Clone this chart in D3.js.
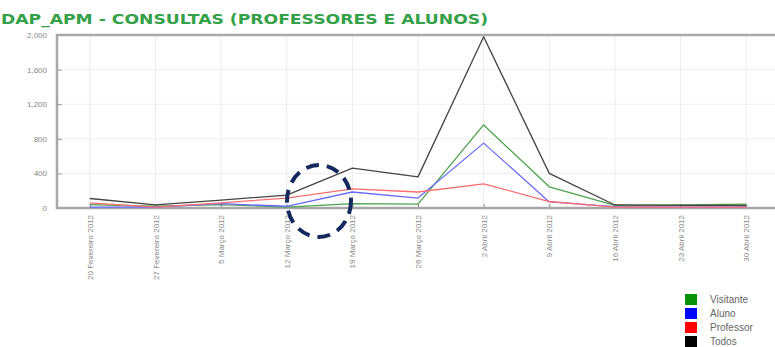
<!DOCTYPE html>
<html>
<head>
<meta charset="utf-8">
<script src="https://cdn.jsdelivr.net/npm/d3@7"></script>
<style>
  html, body { margin: 0; padding: 0; background: #fff; }
  svg { display: block; }
</style>
</head>
<body>
<svg id="chart" width="775" height="347"></svg>
<script>
// Weekly consultations, Feb–Apr 2012
const categories = [
  "20 Fevereiro 2012", "27 Fevereiro 2012", "5 Março 2012", "12 Março 2012",
  "19 Março 2012", "26 Março 2012", "2 Abril 2012", "9 Abril 2012",
  "16 Abril 2012", "23 Abril 2012", "30 Abril 2012"
];
const visitante = [40, 20, 40, 10, 50, 45, 960, 245, 30, 35, 45];
const aluno     = [10, 10, 50, 20, 185, 115, 750, 70, 15, 10, 12];
const professor = [60, 10, 60, 115, 220, 185, 280, 75, 10, 10, 10];
const todos     = [110, 35, 90, 150, 460, 360, 1980, 400, 35, 30, 30];
const yTicks = [0, 400, 800, 1200, 1600, 2000];

const seriesNames  = ["Visitante", "Aluno", "Professor", "Todos"];
const lineColors   = ["#4da24d", "#6b6bff", "#ff6e6e", "#444444"];
const legendColors = ["#079107", "#0000ff", "#ff0000", "#000000"];
const seriesValues = [visitante, aluno, professor, todos];

const svg = d3.select("#chart");
const plot = { left: 57, right: 779, top: 35, bottom: 208 };

const x = d3.scalePoint().domain(categories).range([plot.left, plot.right]).padding(0.5);
const y = d3.scaleLinear().domain([0, 2000]).range([plot.bottom, plot.top]);

// Title
svg.append("text")
  .attr("x", 1).attr("y", 24)
  .attr("font-family", "DejaVu Sans, sans-serif")
  .attr("font-weight", "bold")
  .attr("font-size", 14)
  .attr("fill", "#34a048")
  .attr("textLength", 487)
  .attr("lengthAdjust", "spacingAndGlyphs")
  .text("DAP_APM - CONSULTAS (PROFESSORES E ALUNOS)");

// Grid
const grid = svg.append("g");
grid.selectAll("line.v").data(categories).join("line")
  .attr("class", "v")
  .attr("x1", d => x(d)).attr("x2", d => x(d))
  .attr("y1", plot.top).attr("y2", plot.bottom)
  .attr("stroke", "#ececec").attr("stroke-width", 1);
grid.selectAll("line.h").data(yTicks.slice(1, -1)).join("line")
  .attr("class", "h")
  .attr("x1", plot.left).attr("x2", plot.right)
  .attr("y1", d => y(d)).attr("y2", d => y(d))
  .attr("stroke", "#f0f0f0").attr("stroke-width", 1);

// Y axis
const yAxis = d3.axisLeft(y).tickValues(yTicks).tickFormat(d3.format(",")).tickSize(-5).tickPadding(10);
const gy = svg.append("g").attr("transform", `translate(${plot.left},0)`).call(yAxis);
gy.select(".domain").remove();
gy.selectAll("line").attr("stroke", "#999");
gy.selectAll("text")
  .attr("font-family", "Liberation Sans, Arial, sans-serif")
  .attr("font-size", 8).attr("fill", "#888");

// X axis
const xAxis = d3.axisBottom(x).tickSize(-4).tickPadding(6);
const gx = svg.append("g").attr("transform", `translate(0,${plot.bottom})`).call(xAxis);
gx.select(".domain").remove();
gx.selectAll("line").attr("stroke", "#888");
gx.selectAll("text")
  .attr("font-family", "Liberation Sans, Arial, sans-serif")
  .attr("font-size", 8).attr("fill", "#888")
  .attr("text-anchor", "end")
  .attr("dy", "0.32em")
  .attr("transform", "rotate(-90)")
  .attr("x", -7).attr("y", 0);

// Plot frame
svg.append("rect")
  .attr("x", plot.left).attr("y", plot.top)
  .attr("width", plot.right - plot.left).attr("height", plot.bottom - plot.top)
  .attr("fill", "none").attr("stroke", "#a8a8a8").attr("stroke-width", 2.5);

// Series lines
const line = d3.line().x((d, i) => x(categories[i])).y(d => y(d));
svg.append("g").selectAll("path").data(seriesValues).join("path")
  .attr("d", d => line(d))
  .attr("fill", "none")
  .attr("stroke", (d, i) => lineColors[i])
  .attr("stroke-width", 1.3)
  .attr("stroke-linejoin", "round");

// Highlight ring
svg.append("ellipse")
  .attr("cx", 319).attr("cy", 201).attr("rx", 32).attr("ry", 36)
  .attr("fill", "none").attr("stroke", "#142a5e")
  .attr("stroke-width", 4).attr("stroke-dasharray", "13,8");

// Legend
const legend = svg.append("g").selectAll("g").data(seriesNames).join("g")
  .attr("transform", (d, i) => `translate(685,${294 + i * 14})`);
legend.append("rect").attr("width", 12).attr("height", 11)
  .attr("fill", (d, i) => legendColors[i]);
legend.append("text").attr("x", 25).attr("y", 9)
  .attr("font-family", "Liberation Sans, Arial, sans-serif")
  .attr("font-size", 10).attr("fill", "#666")
  .text(d => d);
</script>
</body>
</html>
